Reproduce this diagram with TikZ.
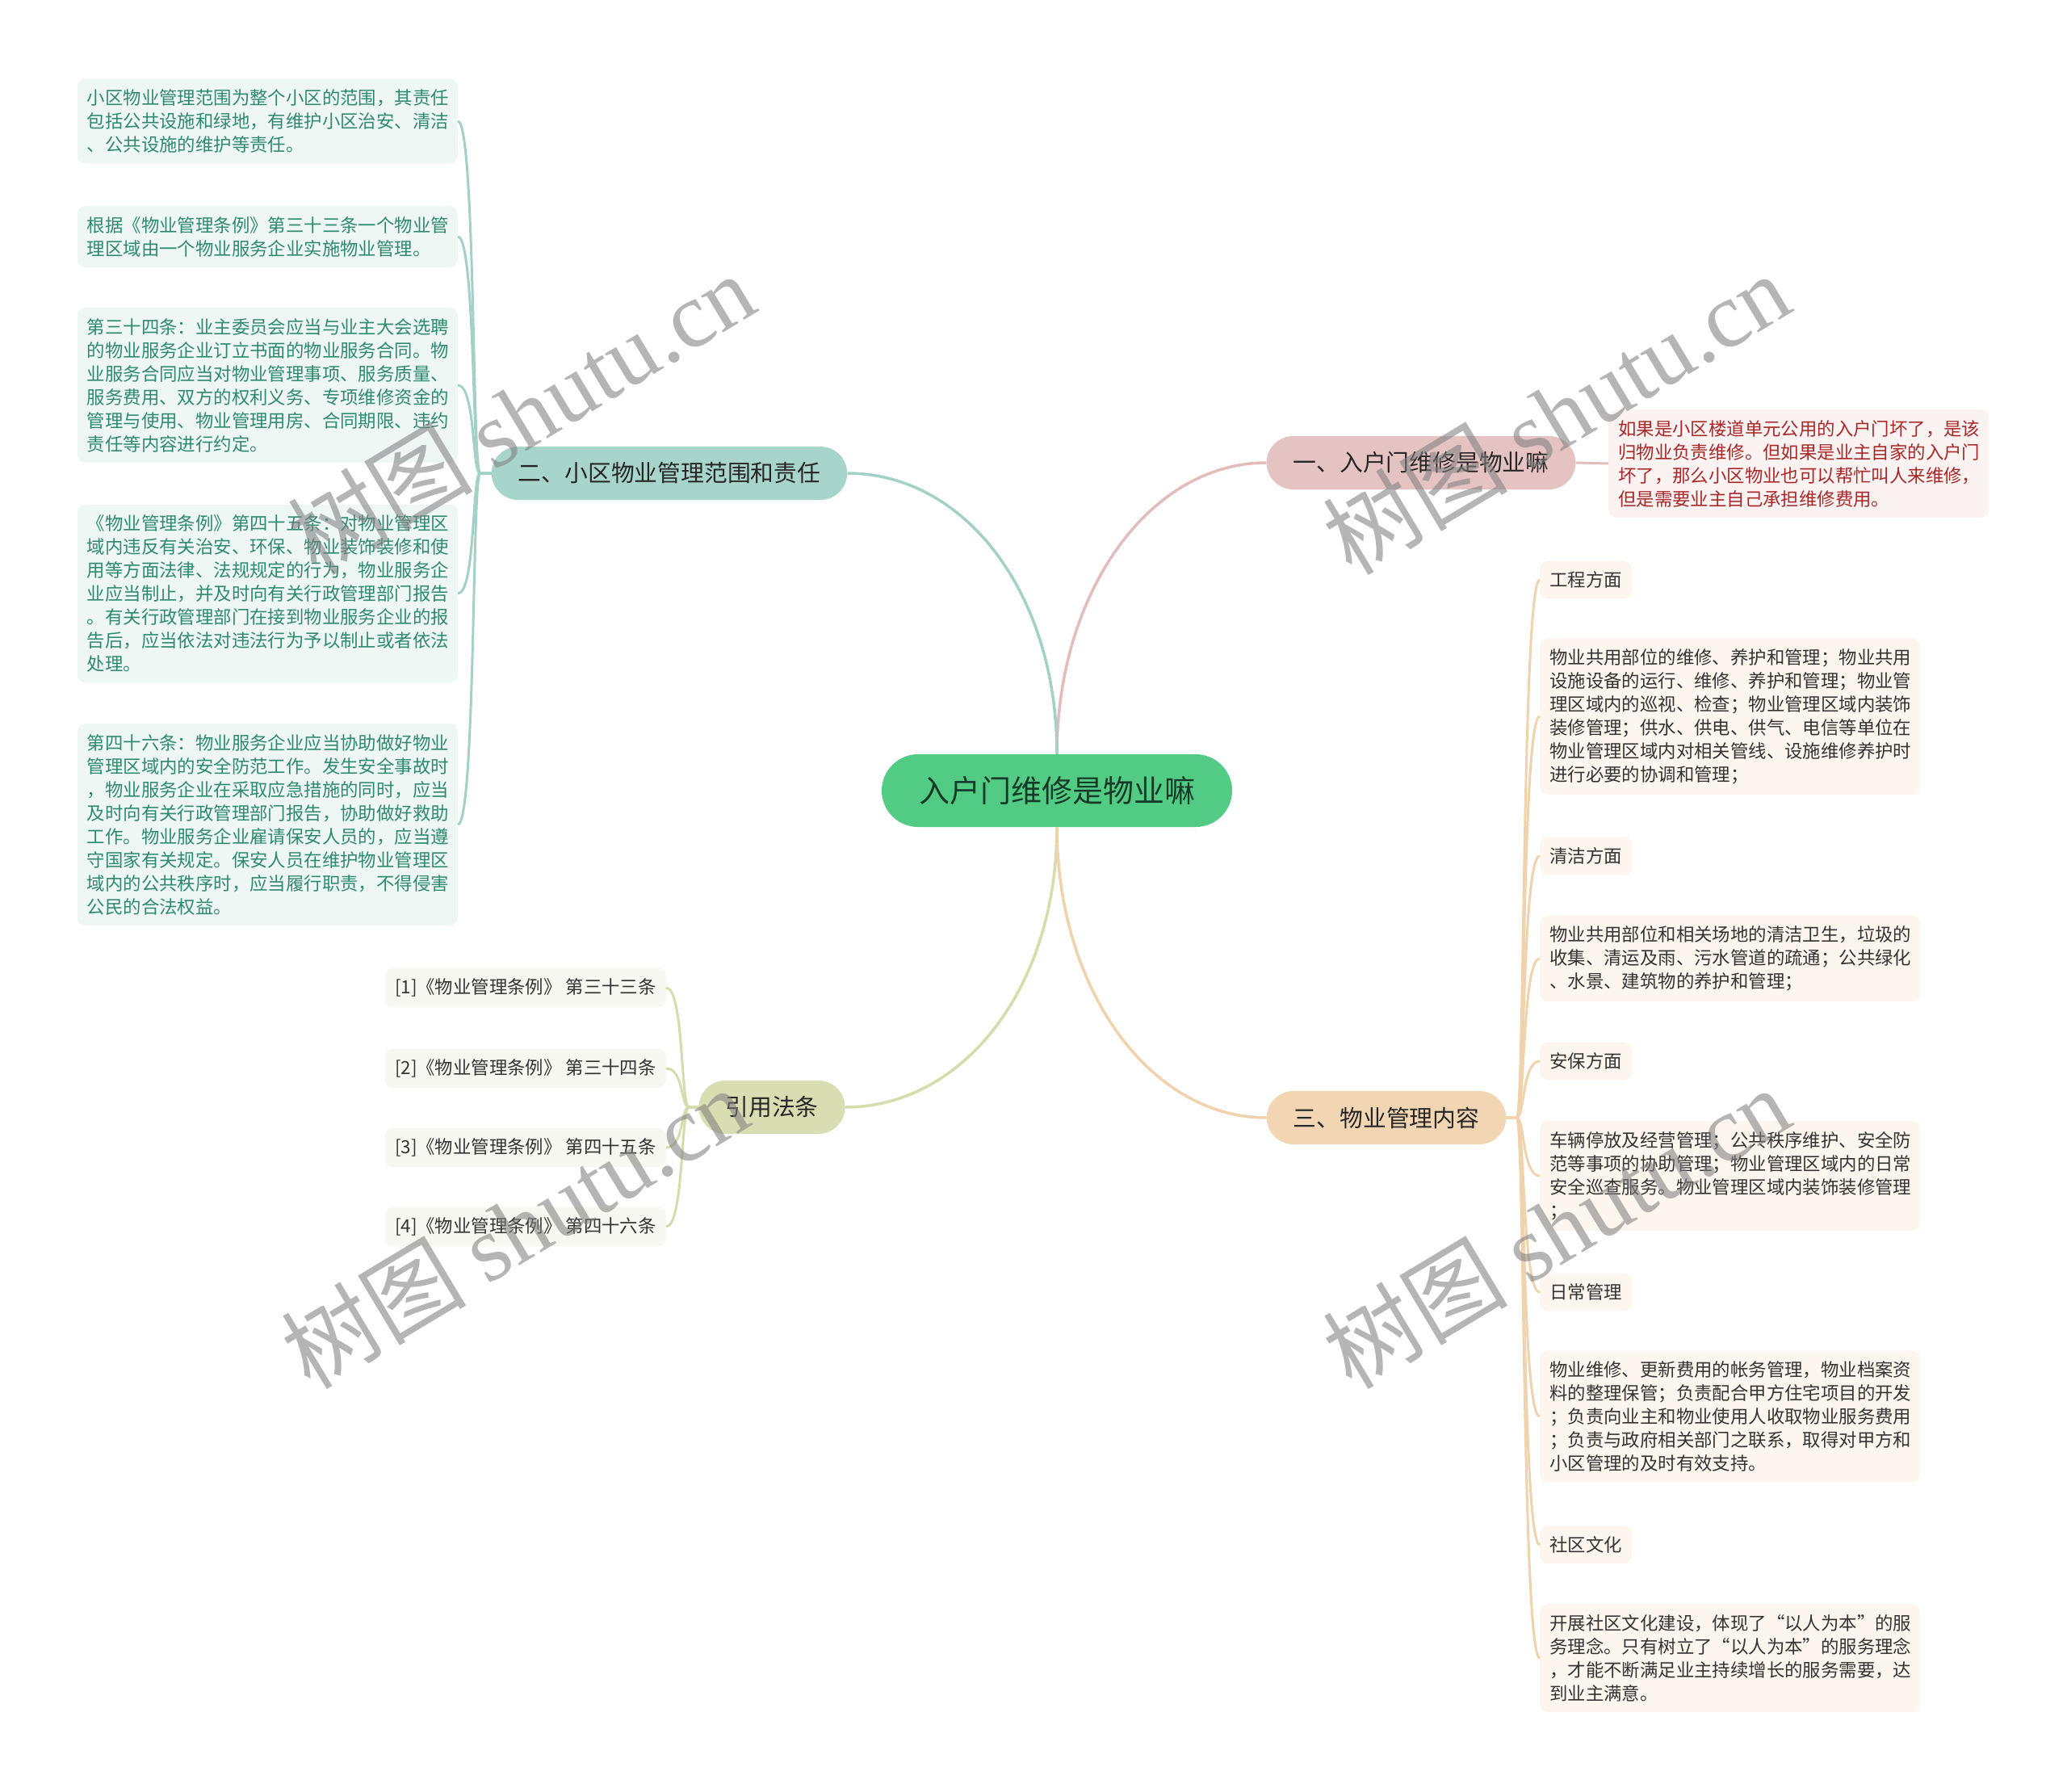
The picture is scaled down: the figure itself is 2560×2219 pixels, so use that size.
\documentclass[tikz,border=0pt]{standalone}
\usepackage{fontspec}
\setmainfont{Noto Sans CJK SC}
\newfontfamily\wmlatin{Liberation Serif}
\usepackage{xcolor}
\usepackage{tikz}

\definecolor{rootfill}{HTML}{52CC85}
\definecolor{roottext}{HTML}{173A28}
\definecolor{pinkfill}{HTML}{E6C3C3}
\definecolor{pinkline}{HTML}{E3BCBC}
\definecolor{pinkleaf}{HTML}{FBF2F2}
\definecolor{pinktext}{HTML}{A82828}
\definecolor{tealfill}{HTML}{A8D5CB}
\definecolor{tealline}{HTML}{A3D1C6}
\definecolor{tealleaf}{HTML}{EFF7F5}
\definecolor{tealtext}{HTML}{2E8A6E}
\definecolor{olivefill}{HTML}{D9DEB2}
\definecolor{oliveline}{HTML}{D6DCAB}
\definecolor{oliveleaf}{HTML}{F8F8F2}
\definecolor{peachfill}{HTML}{F2D6B4}
\definecolor{peachline}{HTML}{F0D2AC}
\definecolor{peachleaf}{HTML}{FDF6EF}
\definecolor{darktext}{HTML}{333333}

\newcommand{\leaffont}{\fontsize{22.4}{29}\selectfont}

\begin{document}
\begin{tikzpicture}[x=1pt, y=-1pt,
        rootbox/.style={fill=rootfill, text=roottext, rounded corners=45pt, minimum height=90pt, inner xsep=46pt, font=\fontsize{38}{44}\selectfont},
        topicbox/.style={rounded corners=33pt, minimum height=66pt, inner xsep=33pt, text=black!85, font=\fontsize{28.8}{34}\selectfont},
        notebox/.style={rounded corners=10pt, inner xsep=12pt, inner ysep=13pt, align=left, font=\leaffont},
        textbox/.style={notebox, text width=447pt},
        wmtext/.style={text=black!50, opacity=0.58, rotate=31, font=\fontsize{115}{120}\selectfont},
        link/.style={line width=3.5pt},
        twig/.style={line width=3pt}]
        \fill[white] (0,0) rectangle (2560,2219);
        \useasboundingbox (0,0) rectangle (2560,2219);

        % root and main topics
        \node[rootbox] (r) at (1309, 979) {入户门维修是物业嘛};
        \node[topicbox, fill=pinkfill] (b1) at (1760, 573) {一、入户门维修是物业嘛};
        \node[topicbox, fill=tealfill] (b2) at (829, 586) {二、小区物业管理范围和责任};
        \node[topicbox, fill=olivefill] (b3) at (956, 1371) {引用法条};
        \node[topicbox, fill=peachfill] (b4) at (1717, 1384) {三、物业管理内容};

        % topic one
        \node[textbox, fill=pinkleaf, text=pinktext, anchor=west] (k1) at (1992, 574) {如果是小区楼道单元公用的入户门坏了，是该\\归物业负责维修。但如果是业主自家的入户门\\坏了，那么小区物业也可以帮忙叫人来维修，\\但是需要业主自己承担维修费用。};

        % topic two
        \node[textbox, fill=tealleaf, text=tealtext, anchor=east] (t1) at (567, 150) {小区物业管理范围为整个小区的范围，其责任\\包括公共设施和绿地，有维护小区治安、清洁\\、公共设施的维护等责任。};
        \node[textbox, fill=tealleaf, text=tealtext, anchor=east] (t2) at (567, 293) {根据《物业管理条例》第三十三条一个物业管\\理区域由一个物业服务企业实施物业管理。};
        \node[textbox, fill=tealleaf, text=tealtext, anchor=east] (t3) at (567, 477) {第三十四条：业主委员会应当与业主大会选聘\\的物业服务企业订立书面的物业服务合同。物\\业服务合同应当对物业管理事项、服务质量、\\服务费用、双方的权利义务、专项维修资金的\\管理与使用、物业管理用房、合同期限、违约\\责任等内容进行约定。};
        \node[textbox, fill=tealleaf, text=tealtext, anchor=east] (t4) at (567, 735) {《物业管理条例》第四十五条：对物业管理区\\域内违反有关治安、环保、物业装饰装修和使\\用等方面法律、法规规定的行为，物业服务企\\业应当制止，并及时向有关行政管理部门报告\\。有关行政管理部门在接到物业服务企业的报\\告后，应当依法对违法行为予以制止或者依法\\处理。};
        \node[textbox, fill=tealleaf, text=tealtext, anchor=east] (t5) at (567, 1021) {第四十六条：物业服务企业应当协助做好物业\\管理区域内的安全防范工作。发生安全事故时\\，物业服务企业在采取应急措施的同时，应当\\及时向有关行政管理部门报告，协助做好救助\\工作。物业服务企业雇请保安人员的，应当遵\\守国家有关规定。保安人员在维护物业管理区\\域内的公共秩序时，应当履行职责，不得侵害\\公民的合法权益。};

        % cited articles
        \node[notebox, fill=oliveleaf, text=darktext, anchor=east] (o1) at (825, 1223) {[1]《物业管理条例》 第三十三条};
        \node[notebox, fill=oliveleaf, text=darktext, anchor=east] (o2) at (825, 1323) {[2]《物业管理条例》 第三十四条};
        \node[notebox, fill=oliveleaf, text=darktext, anchor=east] (o3) at (825, 1421) {[3]《物业管理条例》 第四十五条};
        \node[notebox, fill=oliveleaf, text=darktext, anchor=east] (o4) at (825, 1519) {[4]《物业管理条例》 第四十六条};

        % topic three
        \node[notebox, fill=peachleaf, text=darktext, anchor=west] (p1) at (1907, 718) {工程方面};
        \node[textbox, fill=peachleaf, text=darktext, anchor=west] (p2) at (1907, 887) {物业共用部位的维修、养护和管理；物业共用\\设施设备的运行、维修、养护和管理；物业管\\理区域内的巡视、检查；物业管理区域内装饰\\装修管理；供水、供电、供气、电信等单位在\\物业管理区域内对相关管线、设施维修养护时\\进行必要的协调和管理；};
        \node[notebox, fill=peachleaf, text=darktext, anchor=west] (p3) at (1907, 1060) {清洁方面};
        \node[textbox, fill=peachleaf, text=darktext, anchor=west] (p4) at (1907, 1187) {物业共用部位和相关场地的清洁卫生，垃圾的\\收集、清运及雨、污水管道的疏通；公共绿化\\、水景、建筑物的养护和管理；};
        \node[notebox, fill=peachleaf, text=darktext, anchor=west] (p5) at (1907, 1314) {安保方面};
        \node[textbox, fill=peachleaf, text=darktext, anchor=west] (p6) at (1907, 1456) {车辆停放及经营管理；公共秩序维护、安全防\\范等事项的协助管理；物业管理区域内的日常\\安全巡查服务。物业管理区域内装饰装修管理\\；};
        \node[notebox, fill=peachleaf, text=darktext, anchor=west] (p7) at (1907, 1600) {日常管理};
        \node[textbox, fill=peachleaf, text=darktext, anchor=west] (p8) at (1907, 1754) {物业维修、更新费用的帐务管理，物业档案资\\料的整理保管；负责配合甲方住宅项目的开发\\；负责向业主和物业使用人收取物业服务费用\\；负责与政府相关部门之联系，取得对甲方和\\小区管理的及时有效支持。};
        \node[notebox, fill=peachleaf, text=darktext, anchor=west] (p9) at (1907, 1913) {社区文化};
        \node[textbox, fill=peachleaf, text=darktext, anchor=west] (p10) at (1907, 2053) {开展社区文化建设，体现了“以人为本”的服\\务理念。只有树立了“以人为本”的服务理念\\，才能不断满足业主持续增长的服务需要，达\\到业主满意。};

        % main branches
        \draw[link, pinkline] (r.north) .. controls +(0,-200) and +(-145,0) .. (b1.west);
        \draw[link, tealline] (r.north) .. controls +(0,-200) and +(145,0) .. (b2.east);
        \draw[link, oliveline] (r.south) .. controls +(0,200) and +(145,0) .. (b3.east);
        \draw[link, peachline] (r.south) .. controls +(0,200) and +(-145,0) .. (b4.west);

        % twigs
        \draw[twig, pinkline] (b1.east) -- (k1.west);

        \draw[twig, tealline] (b2.west) -- ++(-14,0) .. controls +(-10,0) and +(22,0) .. (t1.east);
        \draw[twig, tealline] (b2.west) -- ++(-14,0) .. controls +(-10,0) and +(22,0) .. (t2.east);
        \draw[twig, tealline] (b2.west) -- ++(-14,0) .. controls +(-10,0) and +(22,0) .. (t3.east);
        \draw[twig, tealline] (b2.west) -- ++(-14,0) .. controls +(-10,0) and +(22,0) .. (t4.east);
        \draw[twig, tealline] (b2.west) -- ++(-14,0) .. controls +(-10,0) and +(22,0) .. (t5.east);

        \draw[twig, oliveline] (b3.west) -- ++(-12,0) .. controls +(-10,0) and +(22,0) .. (o1.east);
        \draw[twig, oliveline] (b3.west) -- ++(-12,0) .. controls +(-10,0) and +(22,0) .. (o2.east);
        \draw[twig, oliveline] (b3.west) -- ++(-12,0) .. controls +(-10,0) and +(22,0) .. (o3.east);
        \draw[twig, oliveline] (b3.west) -- ++(-12,0) .. controls +(-10,0) and +(22,0) .. (o4.east);

        \draw[twig, peachline] (b4.east) -- ++(13,0) .. controls +(10,0) and +(-22,0) .. (p1.west);
        \draw[twig, peachline] (b4.east) -- ++(13,0) .. controls +(10,0) and +(-22,0) .. (p2.west);
        \draw[twig, peachline] (b4.east) -- ++(13,0) .. controls +(10,0) and +(-22,0) .. (p3.west);
        \draw[twig, peachline] (b4.east) -- ++(13,0) .. controls +(10,0) and +(-22,0) .. (p4.west);
        \draw[twig, peachline] (b4.east) -- ++(13,0) .. controls +(10,0) and +(-22,0) .. (p5.west);
        \draw[twig, peachline] (b4.east) -- ++(13,0) .. controls +(10,0) and +(-22,0) .. (p6.west);
        \draw[twig, peachline] (b4.east) -- ++(13,0) .. controls +(10,0) and +(-22,0) .. (p7.west);
        \draw[twig, peachline] (b4.east) -- ++(13,0) .. controls +(10,0) and +(-22,0) .. (p8.west);
        \draw[twig, peachline] (b4.east) -- ++(13,0) .. controls +(10,0) and +(-22,0) .. (p9.west);
        \draw[twig, peachline] (b4.east) -- ++(13,0) .. controls +(10,0) and +(-22,0) .. (p10.west);

        % watermarks
        \node[wmtext] (w1) at (645, 512) {树图 {\wmlatin shutu.cn}};
        \node[wmtext] (w2) at (1927, 512) {树图 {\wmlatin shutu.cn}};
        \node[wmtext] (w3) at (637, 1520) {树图 {\wmlatin shutu.cn}};
        \node[wmtext] (w4) at (1927, 1520) {树图 {\wmlatin shutu.cn}};
    \end{tikzpicture}
\end{document}
